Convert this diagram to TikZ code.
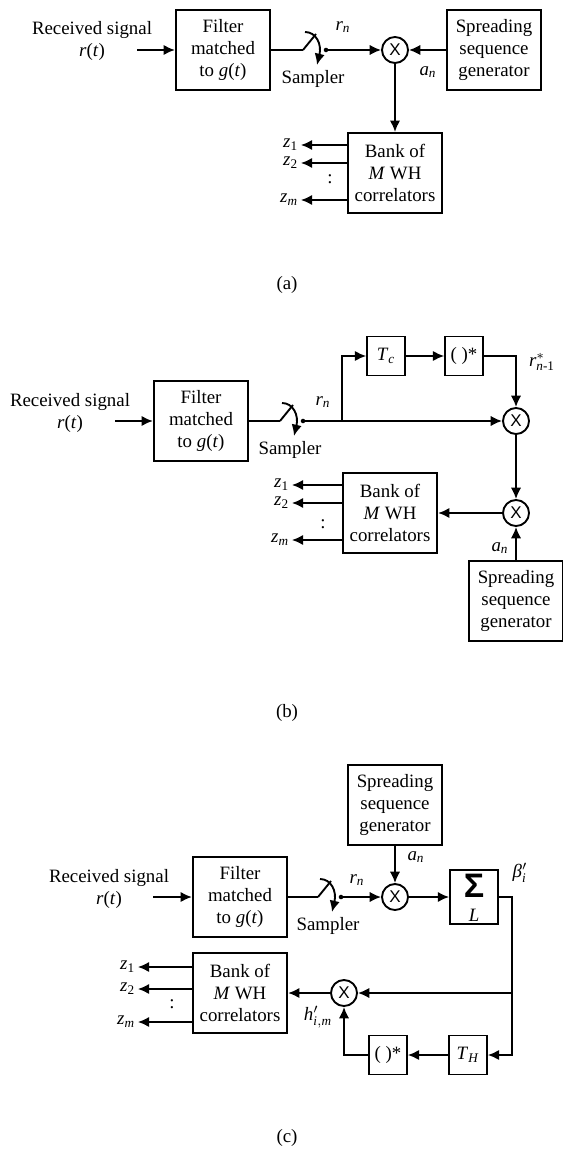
\documentclass[tikz,border=0pt]{standalone}
\usepackage{fontspec}
\setmainfont{Liberation Serif}
\setsansfont{Liberation Sans}
\usetikzlibrary{arrows.meta,positioning,calc}
\tikzset{
  box/.style={draw, rectangle, line width=1pt, align=center, inner sep=0pt, font=\fontsize{10}{11.7}\selectfont},
  big/.style={box, minimum width=50pt, minimum height=42.5pt},
  small/.style={box, minimum width=20pt, minimum height=20.7pt},
  mult/.style={draw, circle, line width=1pt, minimum size=13.8pt, inner sep=0pt, font=\sffamily\fontsize{9}{9}\selectfont},
  arr/.style={-{Latex[length=6pt,width=5.5pt]}, line width=1pt},
  wire/.style={line width=1pt},
  lbl/.style={font=\fontsize{10}{11.7}\selectfont, inner sep=1pt, align=center},
  sampler/.pic={
    \coordinate (-in) at (0,0);
    \coordinate (-out) at (23,0);
    \draw[wire] (0,0) -- (13,-16);
    \draw[arr] (2,-18) .. controls (13,-18) and (19,-6) .. (14,15);
    \fill (23,0) circle (1.2pt);
    \node[lbl] at (10,29) {Sampler};
  }
}
\begin{document}
\begin{tikzpicture}[x=0.53pt, y=-0.53pt]
\useasboundingbox (0,0) rectangle (563,1159);

% (a)
\node[lbl] (inpa) at (92,41) {Received signal\\\textit{r}(\textit{t})};
\coordinate (ia) at (137,50);
\node[big] (filta) at (223,50) {Filter\\matched\\to \textit{g}(\textit{t})};
\draw[arr] (ia) -- (filta);
\pic (sa) at (303,50) {sampler};
\draw[wire] (filta) -- (sa-in);
\node[mult] (multa) at (395,50) {X};
\draw[arr] (sa-out) -- (multa);
\node[lbl] (rna) at (343,27) {\textit{r}\textsubscript{\textit{n}}};
\node[big] (spra) at (494,50) {Spreading\\sequence\\generator};
\draw[arr] (spra) -- (multa);
\node[lbl] (ana) at (428,72) {\textit{a}\textsubscript{\textit{n}}};
\node[big] (banka) at (395,173) {Bank of\\\textit{M} WH\\correlators};
\draw[arr] (multa) -- (banka);
\foreach \n/\d/\s in {1/-28/1, 2/-10/2, m/27/\textit{m}}
  \draw[arr] ($(banka.west)+(0,\d)$) -- ++(-46,0) coordinate (za\n)
    node[lbl, left] {\textit{z}\textsubscript{\s}};
\node[lbl] (dota) at (330,179) {:};
\node[lbl] (capa) at (287,285) {(a)};

% (b)
\node[lbl] (inpb) at (70,413) {Received signal\\\textit{r}(\textit{t})};
\coordinate (ib) at (115,421);
\node[big] (filtb) at (201,421) {Filter\\matched\\to \textit{g}(\textit{t})};
\draw[arr] (ib) -- (filtb);
\pic (sb) at (280,421) {sampler};
\draw[wire] (filtb) -- (sb-in);
\node[mult] (multb) at (516,421) {X};
\draw[arr] (sb-out) -- (multb);
\node[lbl] (rnb) at (323,402) {\textit{r}\textsubscript{\textit{n}}};
\coordinate (brb) at (342,421);
\node[small] (delb) at (386,356) {\textit{T}\textsubscript{\textit{c}}};
\node[small] (conjb) at (464,356) {( )*};
\draw[arr] (brb) |- (delb);
\draw[arr] (delb) -- (conjb);
\draw[arr] (conjb) -| (multb);
\node[lbl] (rstb) at (542,362) {$\mathit{r}^{\mathrm{*}}_{\mathit{n}\mbox{\fontsize{7}{7}\selectfont -1}}$};
\node[mult] (mult2b) at (516,513) {X};
\draw[arr] (multb) -- (mult2b);
\node[big] (bankb) at (390,513) {Bank of\\\textit{M} WH\\correlators};
\draw[arr] (mult2b) -- (bankb);
\foreach \n/\d/\s in {1/-28/1, 2/-10/2, m/27/\textit{m}}
  \draw[arr] ($(bankb.west)+(0,\d)$) -- ++(-50,0) coordinate (zb\n)
    node[lbl, left] {\textit{z}\textsubscript{\s}};
\node[lbl] (dotb) at (323,524) {:};
\node[big] (sprb) at (516,601) {Spreading\\sequence\\generator};
\draw[arr] (sprb) -- (mult2b);
\node[lbl] (anb) at (500,548) {\textit{a}\textsubscript{\textit{n}}};
\node[lbl] (capb) at (287,713) {(b)};

% (c)
\node[big] (sprc) at (395,805) {Spreading\\sequence\\generator};
\node[lbl] (inpc) at (109,889) {Received signal\\\textit{r}(\textit{t})};
\coordinate (ic) at (153,897);
\node[big] (filtc) at (240,897) {Filter\\matched\\to \textit{g}(\textit{t})};
\draw[arr] (ic) -- (filtc);
\pic (sc) at (318,897) {sampler};
\draw[wire] (filtc) -- (sc-in);
\node[mult] (multc) at (395,897) {X};
\draw[arr] (sc-out) -- (multc);
\draw[arr] (sprc) -- (multc);
\node[lbl] (rnc) at (357,880) {\textit{r}\textsubscript{\textit{n}}};
\node[lbl] (anc) at (416,857) {\textit{a}\textsubscript{\textit{n}}};
\node[box, minimum width=25.4pt, minimum height=28.6pt] (sumc) at (474,897) {};
\node[font=\sffamily\bfseries\fontsize{18}{18}\selectfont, inner sep=0pt] (sigc) at (474,886) {Σ};
\node[lbl, inner sep=0pt] (lc) at (474,915) {\textit{L}};
\draw[arr] (multc) -- (sumc);
\node[lbl] (betc) at (520,873) {$\mathit{β}^{\prime}_{\mathit{i}}$};
\node[small] (delc) at (468,1055) {\textit{T}\textsubscript{\textit{H}}};
\node[small] (conjc) at (388,1055) {( )*};
\coordinate (dnc) at (512,1055);
\coordinate (jc) at (512,993);
\draw[arr] (sumc) -| (dnc) -- (delc);
\node[mult] (mult2c) at (344,993) {X};
\draw[arr] (jc) -- (mult2c);
\draw[arr] (delc) -- (conjc);
\draw[arr] (conjc) -| (mult2c);
\node[big] (bankc) at (240,993) {Bank of\\\textit{M} WH\\correlators};
\draw[arr] (mult2c) -- (bankc);
\node[lbl] (hc) at (318,1017) {$\mathit{h}^{\prime}_{\mathit{i,m}}$};
\foreach \n/\d/\s in {1/-26/1, 2/-4/2, m/29/\textit{m}}
  \draw[arr] ($(bankc.west)+(0,\d)$) -- ++(-54,0) coordinate (zc\n)
    node[lbl, left] {\textit{z}\textsubscript{\s}};
\node[lbl] (dotc) at (172,1004) {:};
\node[lbl] (capc) at (287,1138) {(c)};
\end{tikzpicture}
\end{document}
